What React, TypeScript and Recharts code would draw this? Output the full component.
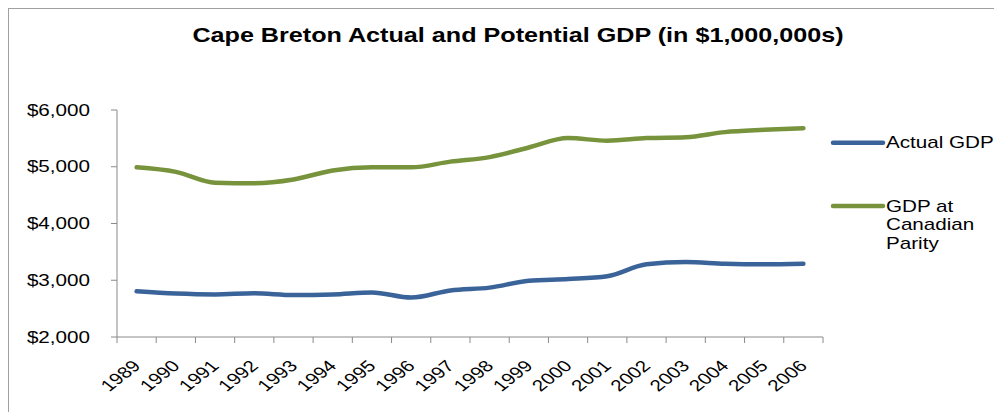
import { LineChart, Line, XAxis, YAxis } from "recharts";

// Cape Breton GDP, $ millions
const years = [
  "1989", "1990", "1991", "1992", "1993", "1994", "1995", "1996", "1997",
  "1998", "1999", "2000", "2001", "2002", "2003", "2004", "2005", "2006",
];
const actualGdp = [
  2805, 2765, 2750, 2770, 2740, 2750, 2785, 2695, 2820,
  2870, 2990, 3020, 3070, 3280, 3320, 3290, 3280, 3290,
];
const parityGdp = [
  4990, 4910, 4720, 4710, 4775, 4935, 4990, 4990, 5090,
  5170, 5340, 5505, 5460, 5505, 5520, 5610, 5650, 5680,
];
const yTicks = [2000, 3000, 4000, 5000, 6000];

const seriesNames = { actual: "Actual GDP", parity: "GDP at Canadian Parity" };
const legendLines = {
  actual: ["Actual GDP"],
  parity: ["GDP at", "Canadian", "Parity"],
};

const data = years.map((year, i) => ({
  year,
  actual: actualGdp[i],
  parity: parityGdp[i],
}));

const BLUE = "#3a6399";
const GREEN = "#77933c";
const AXIS = "#8a8a8a";
const FONT = "'Liberation Sans', Arial, sans-serif";
// the original picture was stretched sideways, so text is too
const STRETCH = 1.29;

const W = 993;
const H = 403;

const money = (v: number) => "$" + v.toLocaleString("en-US");

function YearTick(props: any) {
  const { x, y, payload } = props;
  const half = payload?.offset || 706 / years.length / 2;
  const isLast = payload?.value === years[years.length - 1];
  return (
    <g>
      <line x1={x - half} x2={x - half} y1={y} y2={y + 6} stroke={AXIS} />
      {isLast && <line x1={x + half} x2={x + half} y1={y} y2={y + 6} stroke={AXIS} />}
      <text
        transform={`translate(${x + 5},${y + 30}) scale(${STRETCH},1) rotate(-45)`}
        textAnchor="end"
        fontSize={16}
        fontFamily={FONT}
        fill="#000"
      >
        {payload.value}
      </text>
    </g>
  );
}

function MoneyTick(props: any) {
  const { x, y, payload } = props;
  return (
    <text
      transform={`translate(${x},${y + 5.5}) scale(${STRETCH},1)`}
      textAnchor="end"
      fontSize={16}
      fontFamily={FONT}
      fill="#000"
    >
      {money(payload.value)}
    </text>
  );
}

function Overlay() {
  const items = [
    { key: "actual" as const, color: BLUE, y: 133.7 },
    { key: "parity" as const, color: GREEN, y: 197 },
  ];
  return (
    <svg
      width={W}
      height={H}
      style={{ position: "absolute", left: 0, top: 0, pointerEvents: "none" }}
    >
      <text
        transform={`translate(509,32.7) scale(${STRETCH},1)`}
        textAnchor="middle"
        fontSize={19.5}
        fontWeight="bold"
        fontFamily={FONT}
        fill="#000"
      >
        Cape Breton Actual and Potential GDP (in $1,000,000s)
      </text>
      {items.map((it) => (
        <g key={it.key}>
          <line
            x1={824}
            x2={874}
            y1={it.y}
            y2={it.y}
            stroke={it.color}
            strokeWidth={4.5}
            strokeLinecap="round"
          />
          {legendLines[it.key].map((t, j) => (
            <text
              key={t}
              transform={`translate(877,${it.y + 5.5 + j * 18.5}) scale(${STRETCH},1)`}
              fontSize={16}
              fontFamily={FONT}
              fill="#000"
            >
              {t}
            </text>
          ))}
        </g>
      ))}
    </svg>
  );
}

export default function App() {
  return (
    <div
      style={{
        position: "relative",
        width: W,
        height: H,
        borderTop: "1px solid #a0a0a0",
        borderLeft: "1px solid #a0a0a0",
        background: "#fff",
      }}
    >
      <LineChart
        width={W}
        height={H}
        data={data}
        margin={{ top: 101, right: 179, bottom: 15, left: 28 }}
      >
        <XAxis
          dataKey="year"
          scale="band"
          interval={0}
          height={60}
          tickLine={false}
          tickSize={0}
          tickMargin={0}
          axisLine={{ stroke: AXIS }}
          tick={<YearTick />}
        />
        <YAxis
          domain={[2000, 6000]}
          ticks={yTicks}
          width={80}
          tickSize={6}
          tickMargin={21}
          axisLine={{ stroke: AXIS }}
          tickLine={{ stroke: AXIS }}
          tick={<MoneyTick />}
        />
        <Line
          name={seriesNames.actual}
          type="monotone"
          dataKey="actual"
          stroke={BLUE}
          strokeWidth={4.5}
          strokeLinecap="round"
          dot={false}
          activeDot={false}
          isAnimationActive={false}
        />
        <Line
          name={seriesNames.parity}
          type="monotone"
          dataKey="parity"
          stroke={GREEN}
          strokeWidth={4.5}
          strokeLinecap="round"
          dot={false}
          activeDot={false}
          isAnimationActive={false}
        />
      </LineChart>
      <Overlay />
    </div>
  );
}
